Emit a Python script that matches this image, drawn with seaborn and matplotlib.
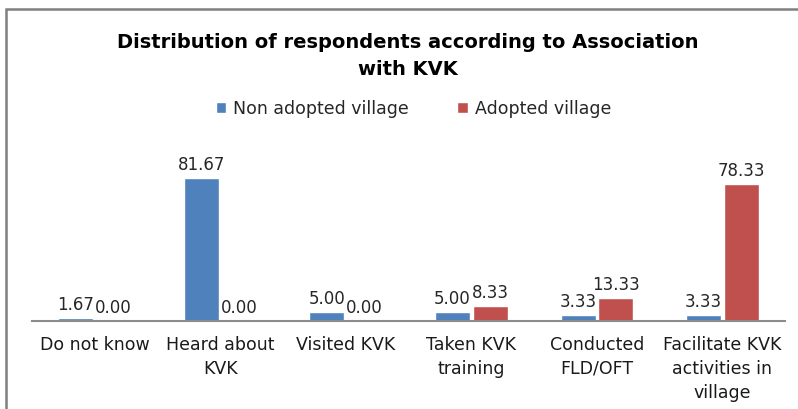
import pandas as pd
import matplotlib.pyplot as plt
from matplotlib.patches import Rectangle
import seaborn as sns

# data
categories = ['Do not know', 'Heard about\nKVK', 'Visited KVK', 'Taken KVK\ntraining',
              'Conducted\nFLD/OFT', 'Facilitate KVK\nactivities in\nvillage']
non_adopted = [1.67, 81.67, 5.00, 5.00, 3.33, 3.33]
adopted = [0.00, 0.00, 0.00, 8.33, 13.33, 78.33]
series_names = ['Non adopted village', 'Adopted village']

df = pd.DataFrame({
    'category': categories * 2,
    'value': non_adopted + adopted,
    'group': [series_names[0]] * len(categories) + [series_names[1]] * len(categories),
})

sns.set_style('white')
plt.rcParams['font.family'] = ['DejaVu Sans']

fig = plt.figure(figsize=(7.98, 4.09), dpi=100)
ax = fig.add_axes([0.040, 0.215, 0.944, 0.385])

sns.barplot(data=df, x='category', y='value', hue='group', order=categories,
            palette=['#4F81BD', '#C0504D'], width=0.6, gap=0.07, saturation=1,
            ax=ax)

for cont in ax.containers:
    ax.bar_label(cont, fmt='%.2f', padding=3, fontsize=12, color='#262626')

ax.set_xlim(-0.5, 5.5)
ax.set_ylim(0, 90)
ax.set_xlabel('')
ax.set_ylabel('')
ax.set_yticks([])
ax.tick_params(axis='x', length=0, pad=11, labelsize=12.5, colors='#1a1a1a')
for lbl in ax.get_xticklabels():
    lbl.set_linespacing(1.4)
for s in ['top', 'right', 'left']:
    ax.spines[s].set_visible(False)
ax.spines['bottom'].set_color('#8c8c8c')
ax.spines['bottom'].set_linewidth(1.5)

handles, labels = ax.get_legend_handles_labels()
ax.get_legend().remove()
fig.legend(handles, labels, loc='center', bbox_to_anchor=(0.518, 1 - 109 / 409),
           ncol=2, frameon=False, fontsize=12.5, handlelength=0.6, handleheight=0.6,
           handletextpad=0.4, columnspacing=2.8, labelcolor='#262626')

fig.text(0.511, 1 - 56 / 409,
         'Distribution of respondents according to Association\nwith KVK',
         ha='center', va='center', fontsize=14, fontweight='bold',
         linespacing=1.5, color='black')

# chart border, cut off on the right and bottom like the reference
fig.add_artist(Rectangle((0.008, -0.1), 1.2, 1.1 - 9 / 409, transform=fig.transFigure,
                         fill=False, edgecolor='#808080', linewidth=1.8))

fig.savefig('out.png', dpi=100)
